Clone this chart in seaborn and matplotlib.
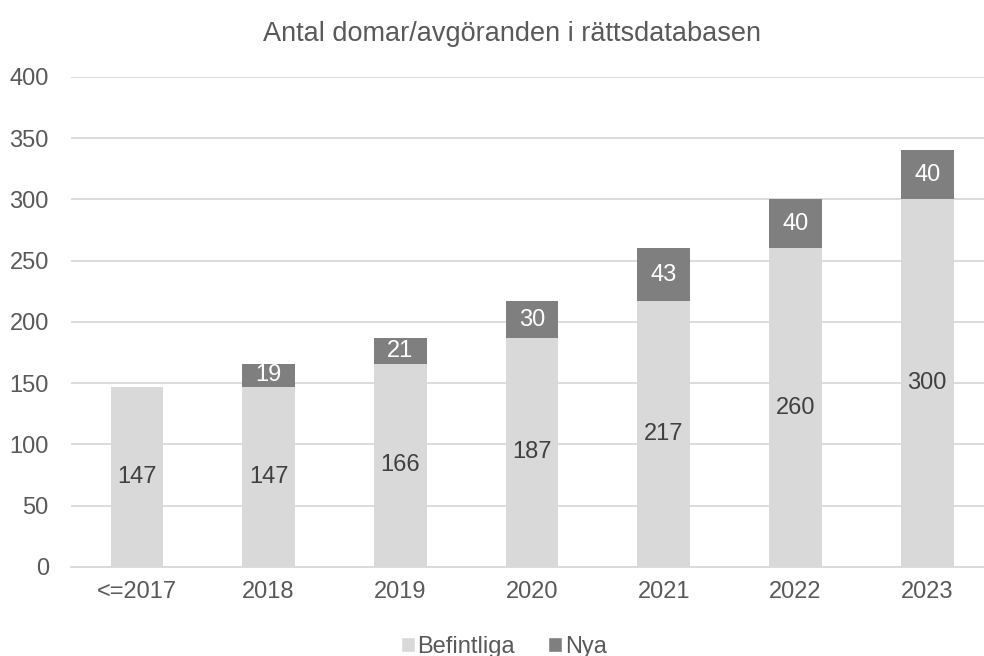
import pandas as pd
import numpy as np
import matplotlib.pyplot as plt
import seaborn as sns
from matplotlib.patches import Patch

years = ['<=2017', '2018', '2019', '2020', '2021', '2022', '2023']
befintliga = [147, 147, 166, 187, 217, 260, 300]
nya = [0, 19, 21, 30, 43, 40, 40]

df = pd.DataFrame({'year': years, 'Befintliga': befintliga, 'Nya': nya})
df['total'] = df['Befintliga'] + df['Nya']

sns.set_theme(style='white')
plt.rcParams['font.family'] = ['Liberation Sans', 'DejaVu Sans']

light = '#d9d9d9'
dark = '#7f7f7f'
txt = '#595959'
fs = 17

fig = plt.figure(figsize=(9.84, 6.56), dpi=100)
ax = fig.add_axes([0.0722, 0.1357, 0.937, 0.747])

# stacked: draw totals in dark, then existing ones on top
sns.barplot(data=df, x='year', y='total', color=dark, width=0.4,
            saturation=1, linewidth=0, ax=ax, zorder=3)
sns.barplot(data=df, x='year', y='Befintliga', color=light, width=0.4,
            saturation=1, linewidth=0, ax=ax, zorder=4)

for i, row in df.iterrows():
    ax.text(i, row['Befintliga'] / 2, str(row['Befintliga']), ha='center',
            va='center', fontsize=fs, color='#404040', zorder=5)
    if row['Nya'] > 0:
        ax.text(i, row['Befintliga'] + row['Nya'] / 2, str(row['Nya']),
                ha='center', va='center', fontsize=fs, color='white', zorder=5)

ax.set_ylim(0, 400)
ax.set_yticks(np.arange(0, 401, 50))
ax.set_xlim(-0.5, len(years) - 0.5)
ax.yaxis.grid(True, color=light, linewidth=1.3, zorder=0)
ax.set_axisbelow(True)
for s in ['top', 'right', 'left']:
    ax.spines[s].set_visible(False)
ax.spines['bottom'].set_color(light)
ax.spines['bottom'].set_linewidth(1.3)
ax.tick_params(axis='both', length=0, labelsize=fs, labelcolor=txt)
ax.tick_params(axis='y', pad=16)
ax.tick_params(axis='x', pad=10)
ax.set_xlabel('')
ax.set_ylabel('')

fig.suptitle('Antal domar/avgöranden i rättsdatabasen', fontsize=19.5,
             color=txt, x=0.52, y=0.968)

handles = [Patch(facecolor=light, label='Befintliga'),
           Patch(facecolor=dark, label='Nya')]
fig.legend(handles=handles, loc='lower center', ncol=2, frameon=False,
           bbox_to_anchor=(0.512, -0.035), fontsize=fs, labelcolor=txt,
           handlelength=0.6, handleheight=0.6, handletextpad=0.1,
           columnspacing=1.4)

fig.savefig('out.png', dpi=100)
